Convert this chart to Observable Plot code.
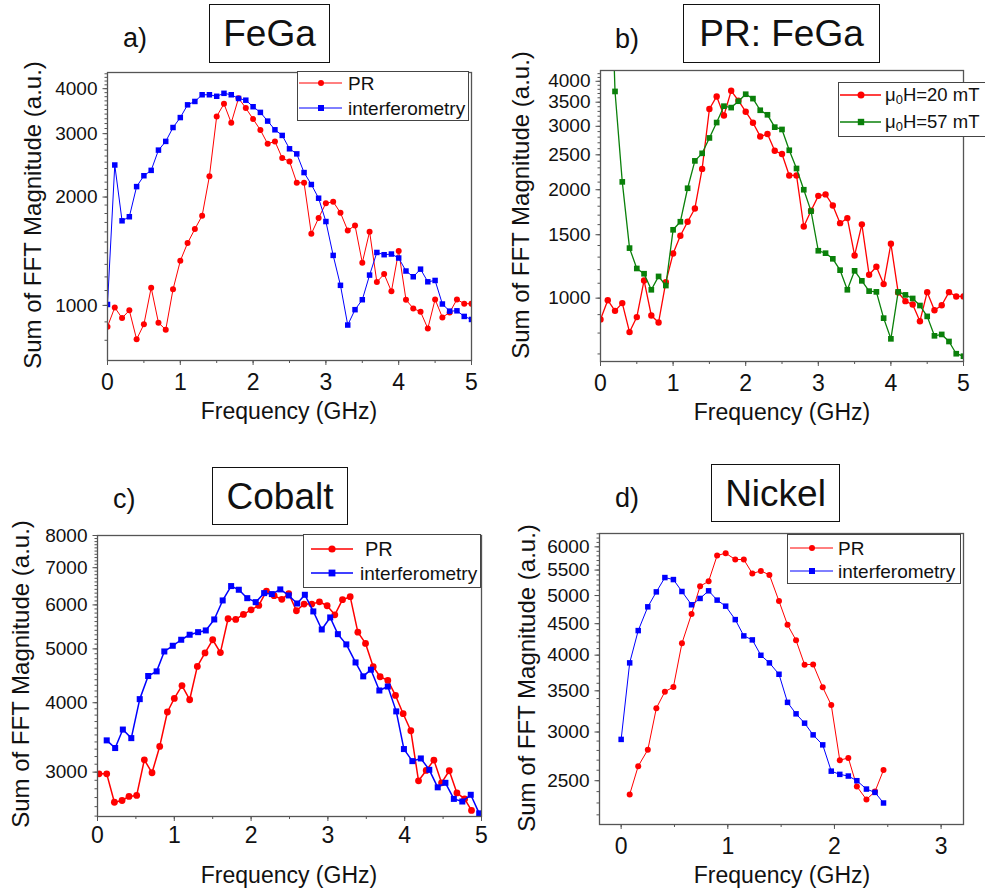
<!DOCTYPE html>
<html><head><meta charset="utf-8">
<script src="https://cdn.jsdelivr.net/npm/d3@7"></script>
<script src="https://cdn.jsdelivr.net/npm/@observablehq/plot@0.6"></script>
<style>
html,body{margin:0;padding:0;background:#fff;overflow:hidden;}
#root{position:relative;width:985px;height:892px;overflow:hidden;font-family:"Liberation Sans",Arial,Helvetica,sans-serif;color:#111;}
.panel{position:absolute;}
.title{position:absolute;border:1.5px solid #111;display:flex;align-items:center;justify-content:center;font-size:37px;box-sizing:border-box;line-height:1;}
.tag{position:absolute;font-size:27px;line-height:1;transform:translateY(-50%);}
.xlab{position:absolute;font-size:23px;transform:translate(-50%,-50%);white-space:nowrap;line-height:1;}
.ylab{position:absolute;font-size:24px;transform:translate(-50%,-50%) rotate(-90deg);white-space:nowrap;line-height:1;}
.legend{position:absolute;border:1.5px solid #444;box-sizing:border-box;background:#fff;}
.ltext{position:absolute;font-size:19px;line-height:1;transform:translateY(-50%);white-space:nowrap;}
.ltext sub{font-size:0.7em;vertical-align:-0.25em;line-height:0;}
</style></head>
<body><div id="root"></div>
<script>
// ---------- DATA ----------
// Panel a) FeGa
const freqA = [0,0.1,0.2,0.3,0.4,0.5,0.6,0.7,0.8,0.9,1.0,1.1,1.2,1.3,1.4,1.5,1.6,1.7,1.8,1.9,2.0,2.1,2.2,2.3,2.4,2.5,2.6,2.7,2.8,2.9,3.0,3.1,3.2,3.3,3.4,3.5,3.6,3.7,3.8,3.9,4.0,4.1,4.2,4.3,4.4,4.5,4.6,4.7,4.8,4.9,5.0];
const prA = [873,987,922,969,805,886,1120,895,856,1108,1330,1490,1630,1774,2285,3350,3631,3215,3764,3533,3293,3070,2812,2855,2566,2512,2191,2191,1581,1749,1923,1941,1808,1615,1668,1314,1603,1161,1222,1094,1416,1037,981,960,863,1039,926,956,1039,1011,1011];
const interfA = [1006,2455,1718,1763,2138,2292,2372,2700,2855,3120,3325,3607,3686,3847,3847,3810,3883,3847,3757,3716,3564,3437,3251,3075,2966,2723,2636,2339,2167,1985,1710,1377,1137,882,973,1037,1214,1403,1383,1389,1354,1246,1201,1261,1163,1173,1009,964,966,932,914];
// Panel b) PR: FeGa
const freqB20 = freqA;
const pr20mT = [873,987,922,969,805,886,1120,895,856,1108,1330,1490,1630,1774,2285,3350,3631,3215,3764,3533,3293,3070,2812,2855,2566,2512,2191,2191,1581,1749,1923,1941,1808,1615,1668,1314,1603,1161,1222,1094,1416,1037,981,960,863,1039,926,956,1039,1011,1011];
const freqB57 = [0.1,0.2,0.3,0.4,0.5,0.6,0.7,0.8,0.9,1.0,1.1,1.2,1.3,1.4,1.5,1.6,1.7,1.8,1.9,2.0,2.1,2.2,2.3,2.4,2.5,2.6,2.7,2.8,2.9,3.0,3.1,3.2,3.3,3.4,3.5,3.6,3.7,3.8,3.9,4.0,4.1,4.2,4.3,4.4,4.5,4.6,4.7,4.8,4.9,5.0];
const pr57mT = [16000,3749,2103,1377,1209,1169,1055,1149,1084,1548,1630,2019,2405,2524,2785,3073,3412,3381,3522,3683,3581,3324,3229,2984,2940,2574,2291,2000,1744,1354,1333,1286,1196,1055,1191,1117,1046,1041,880,771,1041,1021,998,954,890,786,793,758,701,690];
// Panel c) Cobalt
const freqCpr = [0.02,0.12,0.22,0.32,0.41,0.51,0.61,0.71,0.81,0.91,1.00,1.10,1.20,1.30,1.40,1.50,1.60,1.70,1.80,1.90,2.00,2.10,2.20,2.30,2.40,2.49,2.59,2.69,2.79,2.89,2.99,3.09,3.19,3.29,3.39,3.49,3.59,3.68,3.78,3.88,3.98,4.08,4.18,4.28,4.38,4.48,4.58,4.68,4.78,4.87];
const prC = [2979,2979,2648,2667,2713,2724,3157,2992,3337,3849,4072,4294,4050,4650,4917,5193,4924,5665,5649,5767,5880,5987,6354,6233,6140,6286,5856,6020,6020,6078,5979,5759,6131,6208,5359,5114,4644,4455,4387,4123,3822,3561,2894,3021,3153,2870,3017,2752,2685,2560];
const freqCint = [0.12,0.23,0.33,0.44,0.55,0.66,0.77,0.87,0.98,1.09,1.20,1.31,1.41,1.52,1.63,1.74,1.84,1.95,2.06,2.17,2.27,2.38,2.49,2.60,2.70,2.81,2.92,3.03,3.13,3.24,3.36,3.46,3.56,3.67,3.78,3.89,3.99,4.10,4.21,4.32,4.43,4.53,4.64,4.75,4.86,4.97];
const interfC = [3422,3315,3579,3454,4060,4468,4555,4947,5065,5193,5302,5359,5397,5649,6112,6487,6389,6170,6069,6300,6275,6398,6240,6035,6257,5840,5419,5696,5315,5094,4727,4462,4587,4208,4278,3859,3301,3140,3175,3029,2817,2870,2685,2656,2731,2529];
// Panel d) Nickel
const freqDpr = [0.08,0.16,0.25,0.33,0.41,0.49,0.57,0.66,0.74,0.82,0.90,0.98,1.07,1.15,1.23,1.31,1.39,1.48,1.56,1.64,1.72,1.80,1.89,1.97,2.05,2.13,2.21,2.30,2.38,2.46];
const prD = [2375,2640,2807,3280,3489,3551,4182,4666,5177,5274,5808,5859,5722,5722,5429,5483,5402,4897,4481,4229,3860,3864,3546,3319,2699,2723,2447,2330,2400,2602];
const freqDint = [0,0.08,0.16,0.25,0.33,0.41,0.49,0.57,0.66,0.74,0.82,0.90,0.98,1.07,1.15,1.23,1.31,1.39,1.48,1.56,1.64,1.72,1.80,1.89,1.97,2.05,2.13,2.21,2.30,2.38,2.46];
const interfD = [2918,3886,4385,4793,5069,5348,5308,5076,4830,4946,5089,4915,4805,4569,4299,4235,3998,3886,3724,3352,3211,3101,2968,2859,2591,2560,2544,2500,2423,2393,2300];

// Tick labels
const xTicksA = [0,1,2,3,4,5];
const xTicksD = [0,1,2,3];
const yTicksA = [1000,2000,3000,4000];
const yTicksB = [1000,1500,2000,2500,3000,3500,4000];
const yTicksC = [3000,4000,5000,6000,7000,8000];
const yTicksD = [2500,3000,3500,4000,4500,5000,5500,6000];

// ---------- RENDER ----------
const root = document.getElementById("root");
const RED = "#ff0000", BLUE = "#0000ff", GREEN = "#0a800a", AX = "#555";
const rows = (xs, ys) => xs.map((x, i) => ({x, y: ys[i]}));
const rangeStep = (a, b, s) => d3.range(a, b + s / 2, s);

function panel(cfg) {
  const [y0, y1] = cfg.yDomain, [x0, x1] = cfg.xDomain;
  const inY = v => v >= y0 && v <= y1, inX = v => v >= x0 - 1e-9 && v <= x1 + 1e-9;
  const marks = [
    Plot.axisX(cfg.xMinor.filter(inX), {anchor: "bottom", tickSize: 3, tickFormat: () => "", stroke: AX, label: null}),
    Plot.axisX(cfg.xTicks.filter(inX), {anchor: "bottom", tickSize: 5, tickPadding: cfg.xPad, fontSize: 23, stroke: AX, fill: "#111", tickFormat: d3.format("d"), label: null}),
    Plot.axisY(cfg.yMinor.filter(inY), {anchor: "left", tickSize: 2.5, tickFormat: () => "", stroke: AX, label: null}),
    Plot.axisY(cfg.yTicks.filter(inY), {anchor: "left", tickSize: 4.5, tickPadding: 5.5, fontSize: 19, stroke: AX, fill: "#111", tickFormat: d3.format("d"), label: null})
  ];
  for (const s of cfg.series) {
    marks.push(Plot.line(s.data, {x: "x", y: "y", stroke: s.color, strokeWidth: s.lw, clip: true}));
    marks.push(Plot.dot(s.data, {x: "x", y: "y", symbol: s.symbol, r: s.r, fill: s.color, stroke: "none", clip: true}));
  }
  marks.push(Plot.frame({stroke: AX, strokeWidth: 1.3}));
  const svg = Plot.plot({
    width: cfg.w, height: cfg.h,
    marginLeft: cfg.ml, marginRight: cfg.mr, marginTop: cfg.mt, marginBottom: cfg.mb,
    x: {type: "linear", domain: cfg.xDomain},
    y: {type: "log", domain: cfg.yDomain},
    style: {fontFamily: '"Liberation Sans", Arial, sans-serif', background: "transparent", color: "#111", overflow: "visible"},
    marks
  });
  svg.classList.add("panel");
  svg.style.left = cfg.left + "px";
  svg.style.top = cfg.top + "px";
  root.appendChild(svg);
}

function addDiv(cls, html, style) {
  const d = document.createElement("div");
  d.className = cls; d.innerHTML = html;
  Object.assign(d.style, style);
  root.appendChild(d);
  return d;
}

function legend(box, entries) {
  addDiv("legend", "", {left: box.left + "px", top: box.top + "px", width: box.w + "px", height: box.h + "px"});
  for (const e of entries) {
    const w = e.x1 - e.x0;
    const mk = e.symbol === "circle"
      ? `<circle cx="${e.mx - e.x0}" cy="6" r="${e.r}" fill="${e.color}"/>`
      : `<rect x="${e.mx - e.x0 - e.r}" y="${6 - e.r}" width="${2 * e.r}" height="${2 * e.r}" fill="${e.color}"/>`;
    addDiv("panel", `<svg width="${w}" height="12"><line x1="0" y1="6" x2="${w}" y2="6" stroke="${e.color}" stroke-width="${e.lw}"/>${mk}</svg>`,
      {left: e.x0 + "px", top: (e.y - 6) + "px", lineHeight: "0"});
    addDiv("ltext", e.label, {left: e.tx + "px", top: e.y + "px", fontSize: (e.fs || 19) + "px"});
  }
}

// Panel a
panel({left: 0, top: 60, w: 480, h: 370, ml: 107, mr: 9, mt: 12, mb: 70, xPad: 8,
  xDomain: [0, 5], yDomain: [703, 4436], xTicks: xTicksA, xMinor: rangeStep(0, 5, 0.5),
  yTicks: yTicksA, yMinor: rangeStep(700, 4400, 100),
  series: [
    {data: rows(freqA, prA), color: RED, symbol: "circle", r: 3, lw: 1},
    {data: rows(freqA, interfA), color: BLUE, symbol: "square", r: 3.1, lw: 1}
  ]});
// Panel b
panel({left: 490, top: 60, w: 495, h: 370, ml: 110, mr: 22, mt: 10, mb: 69, xPad: 8,
  xDomain: [0, 5], yDomain: [667, 4286], xTicks: xTicksA, xMinor: rangeStep(0, 5, 0.5),
  yTicks: yTicksB, yMinor: rangeStep(700, 4200, 100),
  series: [
    {data: rows(freqB20, pr20mT), color: RED, symbol: "circle", r: 3.2, lw: 1.3},
    {data: rows(freqB57, pr57mT), color: GREEN, symbol: "square", r: 3.2, lw: 1.3}
  ]});
// Panel c
panel({left: 0, top: 520, w: 490, h: 372, ml: 97, mr: 9, mt: 15, mb: 76, xPad: 5,
  xDomain: [0, 5], yDomain: [2496, 8000], xTicks: xTicksA, xMinor: rangeStep(0, 5, 0.5),
  yTicks: yTicksC, yMinor: rangeStep(2500, 8000, 100),
  series: [
    {data: rows(freqCpr, prC), color: RED, symbol: "circle", r: 3.4, lw: 1.5},
    {data: rows(freqCint, interfC), color: BLUE, symbol: "square", r: 3.4, lw: 1.5}
  ]});
// Panel d
panel({left: 500, top: 520, w: 485, h: 372, ml: 99, mr: 22, mt: 13, mb: 68, xPad: 8,
  xDomain: [-0.203, 3.21], yDomain: [2122, 6307], xTicks: xTicksD, xMinor: rangeStep(0, 3, 0.5),
  yTicks: yTicksD, yMinor: rangeStep(2200, 6300, 100),
  series: [
    {data: rows(freqDpr, prD), color: RED, symbol: "circle", r: 3, lw: 1},
    {data: rows(freqDint, interfD), color: BLUE, symbol: "square", r: 3.1, lw: 1}
  ]});

// Axis labels
const XL = "Frequency (GHz)", YL = "Sum of FFT Magnitude (a.u.)";
[[289, 411], [782, 412], [289, 875], [782, 875]].forEach(([x, y]) => addDiv("xlab", XL, {left: x + "px", top: y + "px"}));
[[33, 215], [521, 205], [21, 674], [527, 678]].forEach(([x, y]) => addDiv("ylab", YL, {left: x + "px", top: y + "px"}));

// Titles
addDiv("title", "FeGa", {left: "209px", top: "4px", width: "121px", height: "59px"});
addDiv("title", "PR: FeGa", {left: "683px", top: "4px", width: "197px", height: "59px"});
addDiv("title", "Cobalt", {left: "212px", top: "467px", width: "136px", height: "58px"});
addDiv("title", "Nickel", {left: "711px", top: "464px", width: "129px", height: "58px"});
addDiv("tag", "a)", {left: "123px", top: "38px"});
addDiv("tag", "b)", {left: "615px", top: "39px"});
addDiv("tag", "c)", {left: "113px", top: "499px"});
addDiv("tag", "d)", {left: "615px", top: "498px"});

// Legends
legend({left: 297, top: 71, w: 172, h: 50}, [
  {label: "PR", color: RED, symbol: "circle", r: 3, lw: 1, x0: 299, x1: 342, mx: 321, tx: 348, y: 83},
  {label: "interferometry", color: BLUE, symbol: "square", r: 3, lw: 1, x0: 299, x1: 342, mx: 321, tx: 348, y: 108}
]);
legend({left: 838, top: 82, w: 170, h: 55}, [
  {label: "μ<sub>0</sub>H=20 mT", color: RED, symbol: "circle", r: 3.5, lw: 1.3, x0: 840, x1: 881, mx: 861, tx: 885, y: 95, fs: 18.5},
  {label: "μ<sub>0</sub>H=57 mT", color: GREEN, symbol: "square", r: 3.2, lw: 1.3, x0: 840, x1: 881, mx: 861, tx: 885, y: 122, fs: 18.5}
]);
legend({left: 303, top: 534, w: 178, h: 54}, [
  {label: "PR", color: RED, symbol: "circle", r: 3.6, lw: 1.5, x0: 311, x1: 353, mx: 332, tx: 365, y: 549, fs: 20},
  {label: "interferometry", color: BLUE, symbol: "square", r: 3.4, lw: 1.5, x0: 311, x1: 353, mx: 332, tx: 360, y: 573, fs: 19}
]);
legend({left: 787, top: 534, w: 174, h: 50}, [
  {label: "PR", color: RED, symbol: "circle", r: 3, lw: 1, x0: 790, x1: 833, mx: 812, tx: 838, y: 548},
  {label: "interferometry", color: BLUE, symbol: "square", r: 3, lw: 1, x0: 790, x1: 833, mx: 812, tx: 838, y: 571}
]);
</script>
</body></html>
